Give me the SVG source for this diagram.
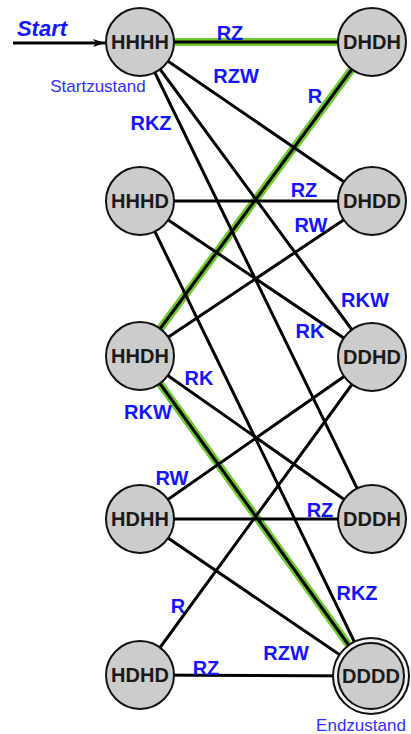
<svg xmlns="http://www.w3.org/2000/svg" width="411" height="734" viewBox="0 0 411 734">
  <style>
    .edge { stroke: #000; stroke-width: 3; fill: none; stroke-linecap: round; }
    .hl { stroke: #6ccb2e; stroke-width: 8; fill: none; }
    .node { fill: #cccccc; stroke: #111; stroke-width: 2; }
    .ring { fill: #f2f2f2; stroke: #111; stroke-width: 2; }
    .nt { font-family: "Liberation Sans", Arial, sans-serif; font-weight: bold; font-size: 20px; fill: #1a1a1a; text-anchor: middle; }
    .lbl { font-family: "Liberation Sans", Arial, sans-serif; font-weight: bold; font-size: 20px; fill: #1414ff; text-anchor: middle; }
    .note { font-family: "Liberation Sans", Arial, sans-serif; font-size: 17px; fill: #3030ff; text-anchor: middle; }
  </style>
  <defs>
    <marker id="arrow" viewBox="0 0 12 8" refX="12" refY="4" markerWidth="12" markerHeight="8" markerUnits="userSpaceOnUse" orient="auto">
      <path d="M0,0 L12,4 L0,8 L3,4 Z" fill="#000"/>
    </marker>
  </defs>

  <!-- transitions -->
  <g id="connectors">
    <!-- highlighted solution path -->
    <line class="hl" x1="140" y1="42" x2="372" y2="42"/>
    <line class="hl" x1="372" y1="42" x2="140" y2="356"/>
    <line class="hl" x1="140" y1="356" x2="371" y2="676"/>

    <!-- from HHHH -->
    <line class="edge" x1="140" y1="42" x2="372" y2="42"/>
    <line class="edge" x1="140" y1="42" x2="372" y2="201"/>
    <line class="edge" x1="140" y1="42" x2="372" y2="357"/>
    <line class="edge" x1="140" y1="42" x2="372" y2="519"/>
    <!-- from HHHD -->
    <line class="edge" x1="140" y1="201" x2="372" y2="201"/>
    <line class="edge" x1="140" y1="201" x2="372" y2="357"/>
    <line class="edge" x1="140" y1="201" x2="371" y2="676"/>
    <!-- from HHDH -->
    <line class="edge" x1="140" y1="356" x2="372" y2="42"/>
    <line class="edge" x1="140" y1="356" x2="372" y2="201"/>
    <line class="edge" x1="140" y1="356" x2="372" y2="519"/>
    <line class="edge" x1="140" y1="356" x2="371" y2="676"/>
    <!-- from HDHH -->
    <line class="edge" x1="140" y1="519" x2="372" y2="357"/>
    <line class="edge" x1="140" y1="519" x2="372" y2="519"/>
    <line class="edge" x1="140" y1="519" x2="371" y2="676"/>
    <!-- from HDHD -->
    <line class="edge" x1="140" y1="675" x2="372" y2="357"/>
    <line class="edge" x1="140" y1="675" x2="371" y2="676"/>

    <!-- start arrow -->
    <line x1="13" y1="43" x2="105" y2="43" stroke="#000" stroke-width="3" marker-end="url(#arrow)"/>
  </g>

  <!-- transition labels -->
  <g id="labels">
    <text class="lbl" x="230" y="40">RZ</text>
    <text class="lbl" x="236" y="83">RZW</text>
    <text class="lbl" x="315" y="103">R</text>
    <text class="lbl" x="151" y="130">RKZ</text>
    <text class="lbl" x="304" y="197">RZ</text>
    <text class="lbl" x="311" y="232">RW</text>
    <text class="lbl" x="365" y="307">RKW</text>
    <text class="lbl" x="310" y="338">RK</text>
    <text class="lbl" x="199" y="385">RK</text>
    <text class="lbl" x="148" y="419">RKW</text>
    <text class="lbl" x="172" y="485">RW</text>
    <text class="lbl" x="320" y="517">RZ</text>
    <text class="lbl" x="357" y="600">RKZ</text>
    <text class="lbl" x="178" y="613">R</text>
    <text class="lbl" x="286" y="660">RZW</text>
    <text class="lbl" x="206" y="675">RZ</text>
    <text x="42" y="36" font-family="Liberation Sans, Arial, sans-serif" font-weight="bold" font-style="italic" font-size="22" fill="#1414ff" text-anchor="middle">Start</text>
    <text class="note" x="98" y="92">Startzustand</text>
    <text class="note" x="361" y="731">Endzustand</text>
  </g>

  <!-- states -->
  <g id="HHHH"><circle class="node" cx="140" cy="42" r="34"/><text class="nt" x="140" y="49">HHHH</text></g>
  <g id="HHHD"><circle class="node" cx="140" cy="201" r="34"/><text class="nt" x="140" y="208">HHHD</text></g>
  <g id="HHDH"><circle class="node" cx="140" cy="356" r="34"/><text class="nt" x="140" y="363">HHDH</text></g>
  <g id="HDHH"><circle class="node" cx="140" cy="519" r="34"/><text class="nt" x="140" y="526">HDHH</text></g>
  <g id="HDHD"><circle class="node" cx="140" cy="675" r="34"/><text class="nt" x="140" y="682">HDHD</text></g>
  <g id="DHDH"><circle class="node" cx="372" cy="42" r="34"/><text class="nt" x="372" y="49">DHDH</text></g>
  <g id="DHDD"><circle class="node" cx="372" cy="201" r="34"/><text class="nt" x="372" y="208">DHDD</text></g>
  <g id="DDHD"><circle class="node" cx="372" cy="357" r="34"/><text class="nt" x="372" y="364">DDHD</text></g>
  <g id="DDDH"><circle class="node" cx="372" cy="519" r="34"/><text class="nt" x="372" y="526">DDDH</text></g>
  <g id="DDDD"><circle class="ring" cx="371" cy="676" r="38"/><circle class="node" cx="371" cy="676" r="33"/><text class="nt" x="371" y="683">DDDD</text></g>
</svg>
